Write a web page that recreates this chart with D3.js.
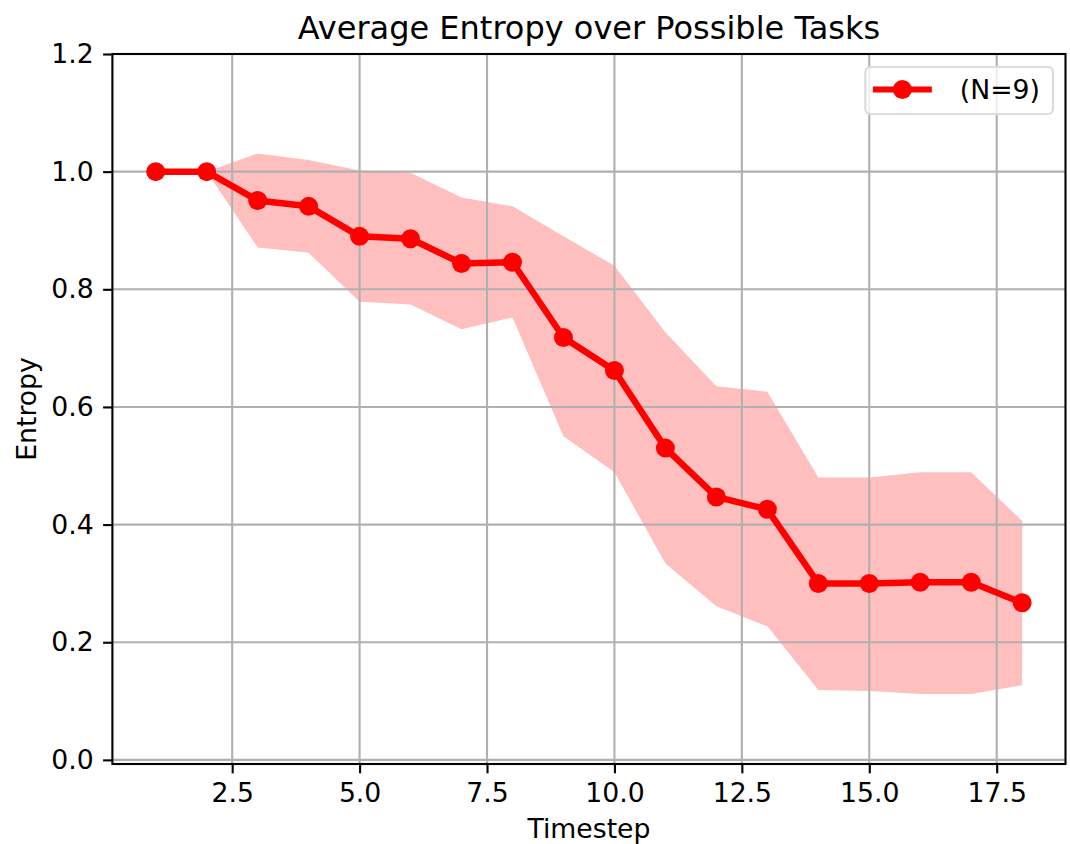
<!DOCTYPE html>
<html lang="en">
    <head>
        <meta charset="UTF-8">
        <script src="https://cdn.jsdelivr.net/npm/d3@7"></script>
        <title>Average Entropy</title>
        <style>
            body { margin: 0; background: #fff; }
            svg { font-family: "DejaVu Sans", sans-serif; }
            .axis path, .axis line { stroke: #000; stroke-width: 2.1px; }
            .axis text { font-size: 26.7px; fill: #000; font-family: "DejaVu Sans", sans-serif; }
            .grid line { stroke: #b0b0b0; stroke-width: 2.1px; }
        </style>
    </head>
    <body>
        <div id="canvas"></div>

        <script>
            //  data
            var timesteps = [1, 2, 3, 4, 5, 6, 7, 8, 9, 10, 11, 12, 13, 14, 15, 16, 17, 18];
            var meanEntropy = [1.0, 1.0, 0.951, 0.941, 0.890, 0.886, 0.844, 0.846, 0.718, 0.662,
                               0.530, 0.447, 0.426, 0.300, 0.300, 0.302, 0.302, 0.267];
            var upperBand = [1.0, 1.0, 1.031, 1.020, 1.002, 0.998, 0.956, 0.941, 0.890, 0.840,
                             0.727, 0.635, 0.626, 0.480, 0.480, 0.489, 0.489, 0.406];
            var lowerBand = [1.0, 1.0, 0.871, 0.862, 0.779, 0.774, 0.732, 0.752, 0.550, 0.489,
                             0.334, 0.261, 0.227, 0.119, 0.117, 0.112, 0.112, 0.127];
            var xTicks = [2.5, 5.0, 7.5, 10.0, 12.5, 15.0, 17.5];
            var yTicks = [0.0, 0.2, 0.4, 0.6, 0.8, 1.0, 1.2];
            var seriesLabel = "(N=9)";

            var W = 1070, H = 844;
            //  plot box (window.top is taken, so prefixed names)
            var pL = 112.4, pR = 1065.5, pT = 54, pB = 764;

            var x = d3.scaleLinear().domain([0.15, 18.85]).range([pL, pR]);
            var y = d3.scaleLinear().domain([-0.007, 1.2]).range([pB, pT]);

            var svg = d3.select("#canvas").append("svg")
                    .attr("width", W)
                    .attr("height", H);

            var rows = timesteps.map(function (t, i) {
                return {t: t, m: meanEntropy[i], hi: upperBand[i], lo: lowerBand[i]};
            });

            //  spread band
            svg.append("path")
                    .datum(rows)
                    .attr("fill", "red")
                    .attr("fill-opacity", 0.25)
                    .attr("d", d3.area()
                            .x(function (d) { return x(d.t); })
                            .y0(function (d) { return y(d.lo); })
                            .y1(function (d) { return y(d.hi); }));

            //  grid, drawn over the band like matplotlib does
            var grid = svg.append("g").attr("class", "grid");
            grid.selectAll(".gx").data(xTicks).enter().append("line")
                    .attr("x1", function (d) { return x(d); })
                    .attr("x2", function (d) { return x(d); })
                    .attr("y1", pT).attr("y2", pB);
            grid.selectAll(".gy").data(yTicks).enter().append("line")
                    .attr("y1", function (d) { return y(d); })
                    .attr("y2", function (d) { return y(d); })
                    .attr("x1", pL).attr("x2", pR);

            //  mean line with markers
            svg.append("path")
                    .datum(rows)
                    .attr("fill", "none")
                    .attr("stroke", "red")
                    .attr("stroke-width", 6.5)
                    .attr("stroke-linejoin", "round")
                    .attr("d", d3.line()
                            .x(function (d) { return x(d.t); })
                            .y(function (d) { return y(d.m); }));
            svg.selectAll(".dot").data(rows).enter().append("circle")
                    .attr("cx", function (d) { return x(d.t); })
                    .attr("cy", function (d) { return y(d.m); })
                    .attr("r", 9.5)
                    .attr("fill", "red");

            //  axes
            var xAxis = d3.axisBottom(x).tickValues(xTicks).tickFormat(d3.format(".1f"))
                    .tickSizeInner(9.3).tickSizeOuter(0).tickPadding(9.3);
            var yAxis = d3.axisLeft(y).tickValues(yTicks).tickFormat(d3.format(".1f"))
                    .tickSizeInner(9.3).tickSizeOuter(0).tickPadding(9.3);
            svg.append("g").attr("class", "axis")
                    .attr("transform", "translate(0," + pB + ")")
                    .call(xAxis);
            svg.append("g").attr("class", "axis")
                    .attr("transform", "translate(" + pL + ",0)")
                    .call(yAxis);
            svg.selectAll(".axis .domain").remove();

            //  frame
            svg.append("rect")
                    .attr("x", pL).attr("y", pT)
                    .attr("width", pR - pL).attr("height", pB - pT)
                    .attr("fill", "none")
                    .attr("stroke", "#000")
                    .attr("stroke-width", 2.1);

            //  titles
            svg.append("text")
                    .attr("x", (pL + pR) / 2).attr("y", 39)
                    .attr("text-anchor", "middle")
                    .attr("font-size", 32)
                    .text("Average Entropy over Possible Tasks");
            svg.append("text")
                    .attr("x", (pL + pR) / 2).attr("y", 838)
                    .attr("text-anchor", "middle")
                    .attr("font-size", 26.7)
                    .text("Timestep");
            svg.append("text")
                    .attr("transform", "translate(36," + ((pT + pB) / 2) + ") rotate(-90)")
                    .attr("text-anchor", "middle")
                    .attr("font-size", 26.7)
                    .text("Entropy");

            //  legend, upper right
            var lg = svg.append("g");
            var lgBox = lg.append("rect")
                    .attr("fill", "#fff").attr("fill-opacity", 0.8)
                    .attr("stroke", "#dcdcdc").attr("stroke-width", 2.2)
                    .attr("rx", 5);
            var lgText = lg.append("text")
                    .attr("font-size", 26.7)
                    .attr("dy", "0.35em")
                    .text(seriesLabel);
            var tw = lgText.node().getComputedTextLength();
            var boxR = pR - 12.5, boxT = pT + 13, boxH = 47;
            var boxW = 7.5 + 59 + 28 + tw + 13;
            var boxL = boxR - boxW, cy = boxT + boxH / 2 - 1;
            lgBox.attr("x", boxL).attr("y", boxT).attr("width", boxW).attr("height", boxH);
            lg.append("line")
                    .attr("x1", boxL + 7.5).attr("x2", boxL + 7.5 + 59)
                    .attr("y1", cy).attr("y2", cy)
                    .attr("stroke", "red").attr("stroke-width", 6);
            lg.append("circle")
                    .attr("cx", boxL + 7.5 + 29.5).attr("cy", cy)
                    .attr("r", 9.5).attr("fill", "red");
            lgText.attr("x", boxL + 7.5 + 59 + 28).attr("y", cy);
        </script>
    </body>
</html>
